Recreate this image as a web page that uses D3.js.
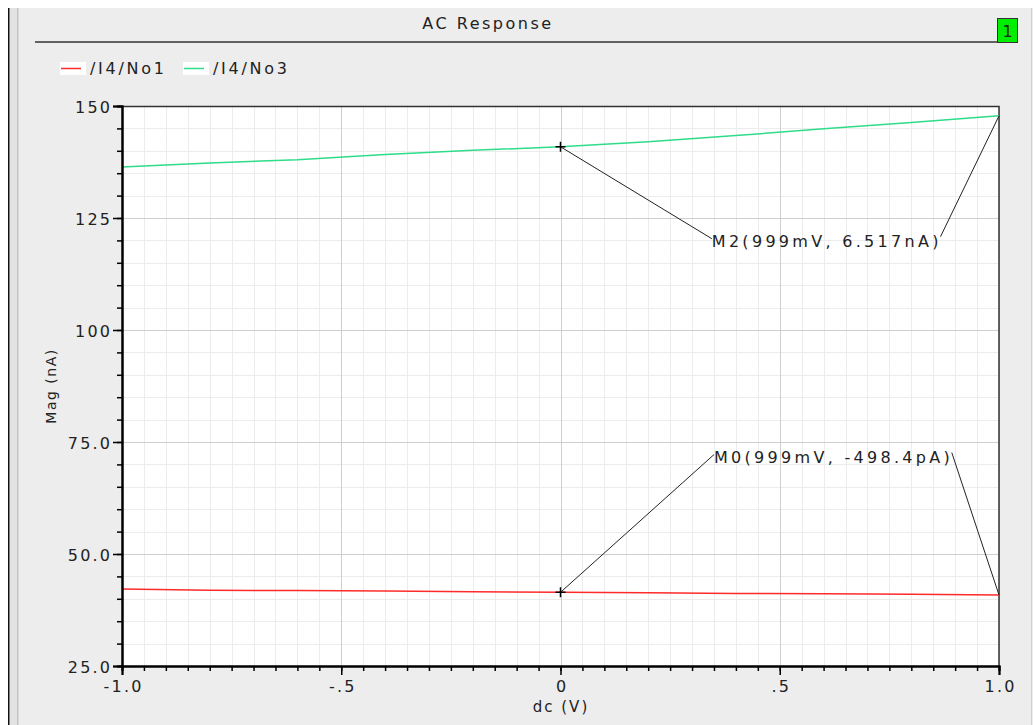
<!DOCTYPE html>
<html>
<head>
<meta charset="utf-8">
<script src="https://cdn.jsdelivr.net/npm/d3@7"></script>
<style>
    body { margin: 0; background: #ffffff; }
    text { font-family: "DejaVu Sans", sans-serif; fill: #222; }
</style>
</head>
<body>
<div id="chart-container"></div>
<script>
//data van de chart
const dcValues = [-1, -0.8, -0.6, -0.4, -0.2, 0, 0.2, 0.4, 0.6, 0.8, 1.0]
const no1Values = [42.2, 41.9, 41.85, 41.75, 41.6, 41.45, 41.35, 41.2, 41.1, 41.0, 40.85]
const no3Values = [136.4, 137.3, 138.0, 139.2, 140.1, 140.9, 142.0, 143.4, 144.9, 146.3, 147.8]

const seriesNames = ['/I4/No1', '/I4/No3']
const seriesColors = ['#ff2b2b', '#2edc8a']

const xTicks = [-1, -0.5, 0, 0.5, 1]
const xTickLabels = ['-1.0', '-.5', '0', '.5', '1.0']
const yTicks = [25, 50, 75, 100, 125, 150]
const yTickLabels = ['25.0', '50.0', '75.0', '100', '125', '150']

//markers: welke serie, welke x en de tekst
const markerNames = ['M2', 'M0']
const markerSeries = [1, 0]
const markerDc = [0, 0]
const markerTexts = ['M2(999mV, 6.517nA)', 'M0(999mV, -498.4pA)']
//label plek in data eenheden
const markerLabelDc = [0.345, 0.35]
const markerLabelMag = [118.6, 70.4]

//settings
const width = 1033
const height = 725
const margin = { top: 106, right: 34, bottom: 59, left: 122 }
const innerWidth = width - margin.left - margin.right
const innerHeight = height - margin.top - margin.bottom
const spacing = 2.2 //het lettertype in het origineel staat wat breder

const svg = d3.select('#chart-container')
    .append('svg')
    .attr('width', width)
    .attr('height', height)

//achtergrond en randen van het venster
svg.append('rect').attr('width', width).attr('height', height).attr('fill', '#ffffff')
svg.append('rect').attr('x', 8).attr('y', 8).attr('width', width - 8).attr('height', height - 8).attr('fill', '#ededed')
svg.append('rect').attr('x', 8).attr('y', 8).attr('width', 1.5).attr('height', height).attr('fill', '#111')
svg.append('rect').attr('x', 10).attr('y', 8).attr('width', 7).attr('height', height).attr('fill', '#e2e2e2')
svg.append('rect').attr('x', 17).attr('y', 8).attr('width', 1.5).attr('height', height).attr('fill', '#c4c4c4')
svg.append('rect').attr('x', 1031).attr('y', 8).attr('width', 1).attr('height', height).attr('fill', '#d0d0d0')

//titel
svg.append('text')
    .attr('x', 488)
    .attr('y', 29)
    .attr('text-anchor', 'middle')
    .attr('font-size', 16)
    .attr('letter-spacing', 2.5)
    .text('AC Response')

svg.append('line')
    .attr('x1', 35).attr('x2', 997)
    .attr('y1', 42).attr('y2', 42)
    .attr('stroke', '#333').attr('stroke-width', 1.5)

//groen vakje met 1
svg.append('rect')
    .attr('x', 997.5).attr('y', 18.5)
    .attr('width', 20).attr('height', 24)
    .attr('fill', '#00ee00').attr('stroke', '#333')
svg.append('text')
    .attr('x', 1007.5).attr('y', 37)
    .attr('text-anchor', 'middle')
    .attr('font-size', 16)
    .text('1')

//legenda
const legendX = [60, 183]
seriesNames.forEach((name, i) => {
    svg.append('rect')
        .attr('x', legendX[i]).attr('y', 62)
        .attr('width', 26).attr('height', 13)
        .attr('fill', '#fff')
    svg.append('line')
        .attr('x1', legendX[i] + 1).attr('x2', legendX[i] + 21)
        .attr('y1', 68.5).attr('y2', 68.5)
        .attr('stroke', seriesColors[i]).attr('stroke-width', 1.5)
    svg.append('text')
        .attr('x', legendX[i] + 30)
        .attr('y', 74)
        .attr('font-size', 16)
        .attr('letter-spacing', spacing + 0.5)
        .text(name)
})

//schalen
const xScale = d3.scaleLinear().domain([-1, 1]).range([margin.left, margin.left + innerWidth])
const yScale = d3.scaleLinear().domain([25, 150]).range([margin.top + innerHeight, margin.top])

const plot = svg.append('g')

plot.append('rect')
    .attr('x', margin.left).attr('y', margin.top)
    .attr('width', innerWidth).attr('height', innerHeight)
    .attr('fill', '#fff')

//grid, kleine lijnen
const xMinor = d3.range(-1, 1.0001, 0.05)
const yMinor = d3.range(25, 150.001, 5)

const gridX = (data, color) => plot.append('g').selectAll('line')
    .data(data)
    .enter()
    .append('line')
    .attr('x1', d => Math.round(xScale(d)) + 0.5)
    .attr('x2', d => Math.round(xScale(d)) + 0.5)
    .attr('y1', margin.top).attr('y2', margin.top + innerHeight)
    .attr('stroke', color)

const gridY = (data, color) => plot.append('g').selectAll('line')
    .data(data)
    .enter()
    .append('line')
    .attr('y1', d => Math.round(yScale(d)) + 0.5)
    .attr('y2', d => Math.round(yScale(d)) + 0.5)
    .attr('x1', margin.left).attr('x2', margin.left + innerWidth)
    .attr('stroke', color)

gridX(xMinor, '#ececec')
gridY(yMinor, '#ececec')
//grid, grote lijnen
gridX(xTicks, '#cfcfcf')
gridY(yTicks, '#cfcfcf')

//rand boven en rechts
plot.append('path')
    .attr('d', `M${margin.left},${margin.top + 0.5}H${margin.left + innerWidth}V${margin.top + innerHeight}`)
    .attr('fill', 'none')
    .attr('stroke', '#333')
    .attr('stroke-width', 1.5)

//lijnen
const line = d3.line()
    .x(d => xScale(d[0]))
    .y(d => yScale(d[1]))

const allSeries = [no1Values, no3Values]
allSeries.forEach((values, i) => {
    plot.append('path')
        .datum(dcValues.map((dc, j) => [dc, values[j]]))
        .attr('d', line)
        .attr('fill', 'none')
        .attr('stroke', seriesColors[i])
        .attr('stroke-width', 1.5)
})

//markers
markerNames.forEach((name, i) => {
    const values = allSeries[markerSeries[i]]
    const mx = xScale(markerDc[i])
    const my = yScale(values[dcValues.indexOf(markerDc[i])])
    const endX = xScale(dcValues[dcValues.length - 1])
    const endY = yScale(values[values.length - 1])
    const lx = xScale(markerLabelDc[i])
    const ly = yScale(markerLabelMag[i])

    const label = plot.append('text')
        .attr('x', lx)
        .attr('y', ly)
        .attr('font-size', 16)
        .attr('letter-spacing', 3.3)
        .text(markerTexts[i])
    const labelWidth = label.node().getComputedTextLength() - 3.3

    plot.append('line')
        .attr('x1', mx).attr('y1', my)
        .attr('x2', lx).attr('y2', ly - 8)
        .attr('stroke', '#222')
    plot.append('line')
        .attr('x1', lx + labelWidth + 2).attr('y1', ly - 10)
        .attr('x2', endX).attr('y2', endY)
        .attr('stroke', '#222')
    plot.append('path')
        .attr('d', `M${mx - 5},${my}H${mx + 5}M${mx},${my - 5}V${my + 5}`)
        .attr('stroke', '#000')
        .attr('stroke-width', 1.5)
})

//assen, eerst de kleine streepjes zonder tekst
const yMinorAxis = svg.append('g')
    .attr('transform', `translate(${margin.left}, 0)`)
    .call(d3.axisLeft(yScale).tickValues(yMinor).tickSize(5).tickFormat(''))
const xMinorAxis = svg.append('g')
    .attr('transform', `translate(0, ${margin.top + innerHeight})`)
    .call(d3.axisBottom(xScale).tickValues(xMinor).tickSize(5).tickFormat(''))
yMinorAxis.selectAll('text').remove()
xMinorAxis.selectAll('text').remove()

const yAxis = svg.append('g')
    .attr('transform', `translate(${margin.left}, 0)`)
    .call(d3.axisLeft(yScale).tickValues(yTicks).tickSize(9).tickPadding(3)
        .tickFormat((d, i) => yTickLabels[i]))

const xAxis = svg.append('g')
    .attr('transform', `translate(0, ${margin.top + innerHeight})`)
    .call(d3.axisBottom(xScale).tickValues(xTicks).tickSize(9).tickPadding(7)
        .tickFormat((d, i) => xTickLabels[i]))

//as stijl
yAxis.attr('font-size', 16).attr('font-family', '"DejaVu Sans", sans-serif')
xAxis.attr('font-size', 16).attr('font-family', '"DejaVu Sans", sans-serif')
svg.selectAll('.domain').attr('stroke', '#000').attr('stroke-width', 2)
svg.selectAll('.tick line').attr('stroke', '#000').attr('stroke-width', 1.5)
yAxis.selectAll('.tick text').attr('letter-spacing', spacing).attr('dy', '0.4em')
    .attr('dx', spacing)
xAxis.selectAll('.tick text').attr('letter-spacing', spacing)
    .attr('dx', spacing / 2).attr('dy', '0.62em')

//as labels
svg.append('text')
    .attr('transform', 'translate(56, 386) rotate(-90)')
    .attr('text-anchor', 'middle')
    .attr('font-size', 14)
    .attr('letter-spacing', 1.5)
    .text('Mag (nA)')

svg.append('text')
    .attr('x', 561)
    .attr('y', 712)
    .attr('text-anchor', 'middle')
    .attr('font-size', 15)
    .attr('letter-spacing', 2)
    .text('dc (V)')
</script>
</body>
</html>
